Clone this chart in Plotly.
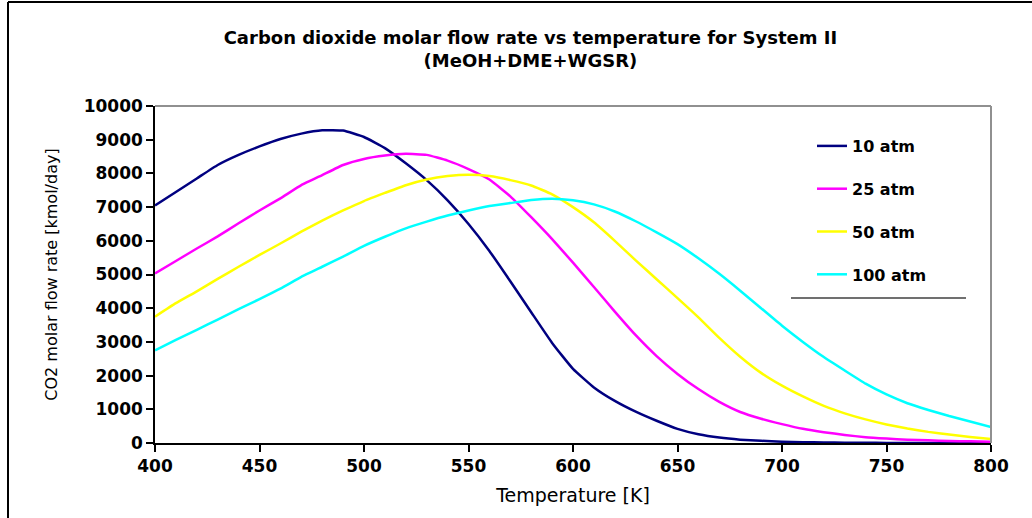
import plotly.graph_objects as go

temperature = list(range(400, 801, 10))

co2_10atm = [7050, 7450, 7850, 8250, 8550, 8800, 9020, 9180, 9280, 9270,
             9080, 8750, 8300, 7800, 7200, 6500, 5700, 4800, 3880, 2970,
             2200, 1650, 1250, 930, 660, 420, 260, 160, 100, 65,
             40, 25, 15, 10, 5, 3, 2, 1, 0, 0, 0]
co2_25atm = [5030, 5400, 5770, 6130, 6520, 6900, 7260, 7650, 7950, 8250,
             8430, 8530, 8580, 8550, 8380, 8130, 7820, 7320, 6700, 6050,
             5350, 4630, 3900, 3200, 2580, 2050, 1600, 1220, 920, 720,
             560, 420, 320, 240, 170, 130, 100, 80, 60, 50, 40]
co2_50atm = [3750, 4150, 4500, 4870, 5230, 5580, 5920, 6270, 6600, 6900,
             7180, 7420, 7650, 7820, 7920, 7960, 7920, 7800, 7640, 7380,
             7000, 6550, 6000, 5420, 4860, 4300, 3730, 3120, 2560, 2080,
             1700, 1380, 1100, 880, 700, 550, 430, 330, 250, 180, 120]
co2_100atm = [2750, 3060, 3360, 3660, 3970, 4270, 4580, 4930, 5230, 5530,
              5850, 6120, 6370, 6570, 6750, 6900, 7030, 7120, 7210, 7250,
              7200, 7080, 6870, 6580, 6250, 5900, 5480, 5020, 4520, 4000,
              3480, 3000, 2550, 2150, 1760, 1440, 1180, 980, 800, 640, 475]

series_names = ["10 atm", "25 atm", "50 atm", "100 atm"]
series_values = [co2_10atm, co2_25atm, co2_50atm, co2_100atm]
series_colors = ["#000080", "#FF00FF", "#FFFF00", "#00FFFF"]

x_ticks = list(range(400, 801, 50))
y_ticks = list(range(0, 10001, 1000))

FONT = "DejaVu Sans, Verdana, sans-serif"

fig = go.Figure()
for name, vals, col in zip(series_names, series_values, series_colors):
    fig.add_trace(go.Scatter(
        x=temperature, y=vals, mode="lines", name=f"<b>{name}</b>",
        line=dict(color=col, width=2.5, shape="spline", smoothing=0.4),
        legendgroup=name,
    ))

W, H = 1032, 518
L, R, T, B = 155, 41, 106, 75
pw, ph = W - L - R, H - T - B

def px_x(x):
    return (x - L) / pw

def px_y(y):
    return (H - B - y) / ph

fig.update_layout(
    width=W, height=H,
    margin=dict(l=L, r=R, t=T, b=B),
    paper_bgcolor="white", plot_bgcolor="white",
    font=dict(family=FONT, color="black"),
    title=dict(
        text="<b>Carbon dioxide molar flow rate vs temperature for System II<br>(MeOH+DME+WGSR)</b>",
        x=0.514, xanchor="center", y=1 - 44 / H, yanchor="middle",
        font=dict(size=18, color="black", family=FONT),
    ),
    xaxis=dict(
        range=[400, 800], tickvals=x_ticks, ticktext=[f"<b>{v}</b>" for v in x_ticks],
        showgrid=False, zeroline=False, showline=True, linecolor="black", linewidth=1.5,
        ticks="outside", ticklen=7, tickcolor="black", tickwidth=1.5,
        tickfont=dict(size=17, color="black", family=FONT),
        title=dict(text="Temperature [K]", font=dict(size=19, color="black", family=FONT), standoff=14),
    ),
    yaxis=dict(
        range=[0, 10000], tickvals=y_ticks, ticktext=[f"<b>{v}</b>" for v in y_ticks],
        showgrid=False, zeroline=False, showline=True, linecolor="black", linewidth=1.5,
        ticks="outside", ticklen=7, tickcolor="black", tickwidth=1.5,
        tickfont=dict(size=17, color="black", family=FONT),
        title=dict(text="CO2 molar flow rate [kmol/day]", font=dict(size=16, color="black", family=FONT), standoff=22),
    ),
    legend=dict(
        x=px_x(812), y=px_y(129), xanchor="left", yanchor="top",
        bgcolor="rgba(0,0,0,0)", borderwidth=0,
        font=dict(size=16, color="black", family=FONT),
        tracegroupgap=19, traceorder="grouped",
    ),
    showlegend=True,
)

shapes = [
    dict(type="line", xref="paper", yref="paper", x0=0, x1=1, y0=1, y1=1,
         line=dict(color="#909090", width=2)),
    dict(type="line", xref="paper", yref="paper", x0=1, x1=1, y0=0, y1=1,
         line=dict(color="#909090", width=2)),
    dict(type="line", xref="paper", yref="paper", x0=px_x(791), x1=px_x(966),
         y0=px_y(298), y1=px_y(298), line=dict(color="#404040", width=1.5)),
    dict(type="line", xref="paper", yref="paper", x0=px_x(8), x1=px_x(1032),
         y0=px_y(2), y1=px_y(2), line=dict(color="black", width=2)),
    dict(type="line", xref="paper", yref="paper", x0=px_x(8), x1=px_x(8),
         y0=px_y(2), y1=px_y(518), line=dict(color="black", width=2)),
]
fig.update_layout(shapes=shapes)

fig.write_html("out.html")
